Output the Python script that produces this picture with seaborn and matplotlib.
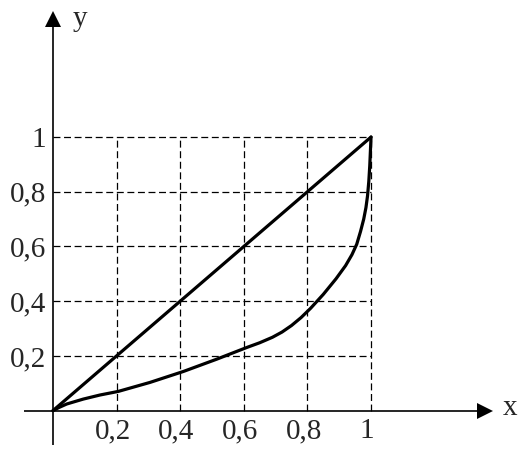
import numpy as np
import pandas as pd
import matplotlib
matplotlib.use('Agg')
import matplotlib.pyplot as plt
import seaborn as sns

sns.set_theme(style='white')
plt.rcParams['font.family'] = ['Liberation Serif', 'DejaVu Serif']
plt.rcParams['lines.scale_dashes'] = False

# tick values and labels (decimal comma, as in the original)
tick_vals = [0.2, 0.4, 0.6, 0.8, 1.0]
tick_labels = ['0,2', '0,4', '0,6', '0,8', '1']

# equality line
diag_x = [0.0, 1.0]
diag_y = [0.0, 1.0]

# Lorenz-type curve
curve_x = [0.0, 0.02, 0.043, 0.095, 0.148, 0.205, 0.305, 0.41, 0.515, 0.61,
           0.65, 0.69, 0.72, 0.75, 0.78, 0.81, 0.85, 0.89, 0.92, 0.94, 0.955,
           0.967, 0.977, 0.984, 0.989, 0.993, 0.996, 0.998, 1.0]
curve_y = [0.0, 0.012, 0.024, 0.042, 0.057, 0.070, 0.103, 0.143, 0.188, 0.231,
           0.248, 0.268, 0.287, 0.311, 0.340, 0.374, 0.425, 0.482, 0.530, 0.570,
           0.608, 0.655, 0.700, 0.742, 0.785, 0.838, 0.895, 0.948, 1.0]

fig = plt.figure(figsize=(5.24, 4.60), dpi=100)
ax = fig.add_axes([0, 0, 1, 1])
ax.set_xlim(-0.1667, 1.481)
ax.set_ylim(-0.177, 1.5046)

# dashed grid from 0 to 1
grid_kw = dict(color='black', lw=0.9, linestyles=(0, (5, 2.6)))
ax.hlines(tick_vals, 0, 1, **grid_kw)
ax.vlines(tick_vals, 0, 1, **grid_kw)

# axes with arrows
ax.plot([-0.091, 1.357], [0, 0], color='black', lw=1.2, solid_capstyle='butt')
ax.plot([0, 0], [-0.126, 1.433], color='black', lw=1.2, solid_capstyle='butt')
ax.plot(1.357, 0, marker='>', ms=11, color='black', mew=0)
ax.plot(0, 1.433, marker='^', ms=11, color='black', mew=0)

# curves
df_diag = pd.DataFrame({'x': diag_x, 'y': diag_y})
df_curve = pd.DataFrame({'x': curve_x, 'y': curve_y})
sns.lineplot(data=df_diag, x='x', y='y', ax=ax, color='black', lw=2.3,
             sort=False, estimator=None, solid_joinstyle='round')
sns.lineplot(data=df_curve, x='x', y='y', ax=ax, color='black', lw=2.3,
             sort=False, estimator=None, solid_joinstyle='round')
ax.axis('off')

# tick labels
fs = 21
for v, lab in zip(tick_vals, tick_labels):
    ax.text(v - 0.012, -0.097, lab, ha='center', va='baseline', fontsize=fs)
    ax.text(-0.022, v - 0.033, lab, ha='right', va='baseline', fontsize=fs)

ax.text(0.062, 1.41, 'y', ha='left', va='baseline', fontsize=fs)
ax.text(1.413, -0.013, 'x', ha='left', va='baseline', fontsize=fs)

fig.savefig('out.png', dpi=100)
